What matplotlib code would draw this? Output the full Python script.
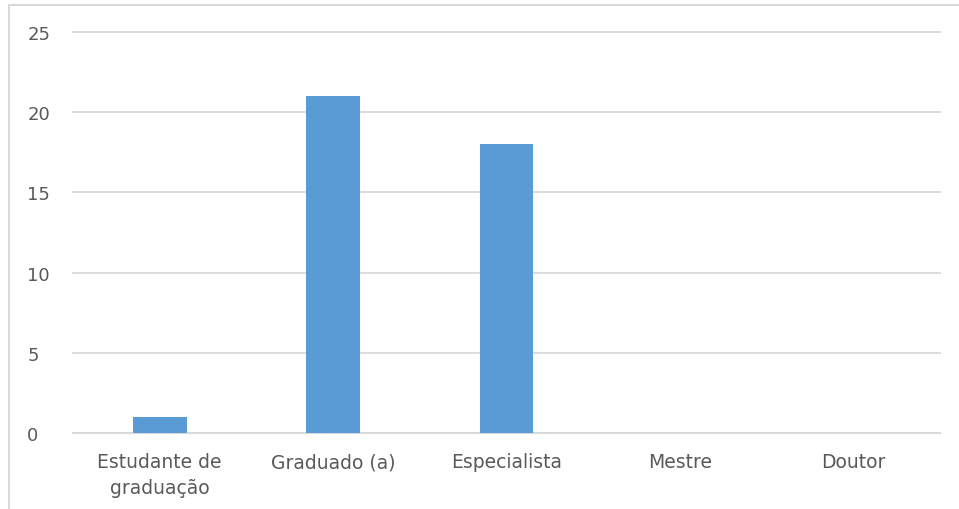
import matplotlib.pyplot as plt
from matplotlib.patches import Rectangle

categories = ['Estudante de\ngraduação', 'Graduado (a)', 'Especialista', 'Mestre', 'Doutor']
values = [1, 21, 18, 0, 0]
y_ticks = [0, 5, 10, 15, 20, 25]

plt.rcParams['font.family'] = ['DejaVu Sans']

fig = plt.figure(figsize=(9.59, 5.10), dpi=100)
ax = fig.add_axes([0.0761, 0.149, 0.9039, 0.786])

x = list(range(len(categories)))
ax.bar(x, values, width=0.31, color='#5B9BD5', zorder=3)

ax.set_xlim(-0.5, len(categories) - 0.5)
ax.set_ylim(0, 25)
ax.set_yticks(y_ticks)
ax.set_xticks(x)
ax.set_xticklabels(categories, fontsize=13.5, color='#595959', linespacing=1.45)
ax.tick_params(axis='y', labelsize=13, labelcolor='#595959', length=0, pad=33)
ax.tick_params(axis='x', length=0, pad=14)
for lab in ax.get_yticklabels():
    lab.set_horizontalalignment('left')

ax.grid(axis='y', color='#D9D9D9', linewidth=1.3, zorder=0)
for gl in ax.get_ygridlines():
    gl.set_clip_on(False)
for s in ['top', 'right', 'left']:
    ax.spines[s].set_visible(False)
ax.spines['bottom'].set_color('#D9D9D9')
ax.spines['bottom'].set_linewidth(1.3)

# light frame around the chart area
fig.patches.append(Rectangle((9 / 959, -0.05), 1.2, 1 - 6 / 510 + 0.05,
                             transform=fig.transFigure, fill=False,
                             edgecolor='#D9D9D9', linewidth=1.5))

fig.savefig('out.png', dpi=100)
